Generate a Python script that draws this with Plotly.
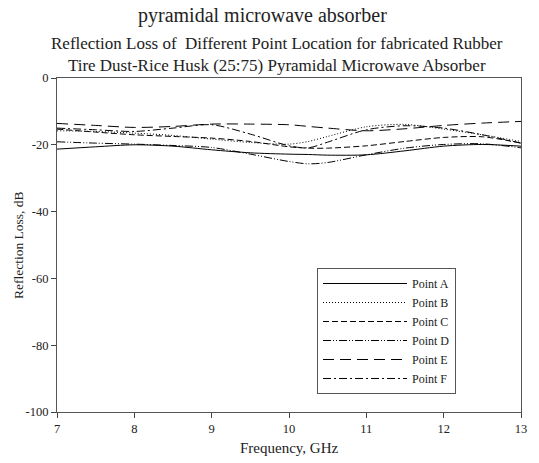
import plotly.graph_objects as go

freq = [7.0, 7.5, 8.0, 8.5, 9.0, 9.5, 10.0, 10.25, 10.5, 11.0, 11.5, 12.0, 12.5, 13.0]

point_a = [-21.3, -20.6, -20.0, -20.4, -21.5, -22.4, -22.8, -22.9, -23.1, -23.0, -21.8, -20.4, -19.9, -20.4]
point_b = [-15.8, -16.0, -16.5, -17.2, -18.3, -19.3, -19.8, -19.0, -17.5, -14.6, -13.9, -15.3, -17.0, -19.0]
point_c = [-15.3, -16.2, -17.0, -17.5, -18.0, -19.0, -20.6, -21.0, -21.0, -20.3, -19.0, -17.8, -17.6, -19.5]
point_d = [-19.1, -19.5, -19.8, -20.2, -20.8, -22.8, -25.0, -25.7, -25.3, -23.0, -21.0, -19.9, -19.7, -20.9]
point_e = [-13.6, -14.2, -14.8, -14.5, -13.8, -13.8, -14.0, -14.5, -15.0, -15.8, -15.2, -14.2, -13.5, -13.0]
point_f = [-15.0, -15.5, -16.0, -15.0, -14.0, -16.8, -20.3, -20.9, -19.2, -15.5, -14.3, -15.0, -17.0, -19.5]

names = ["Point A", "Point B", "Point C", "Point D", "Point E", "Point F"]
series = [point_a, point_b, point_c, point_d, point_e, point_f]
dashes = ["solid", "1px,2px", "6px,3px", "8px,2px,1px,2px,1px,2px", "11px,6px", "8px,3px,2px,3px"]

x_ticks = [7, 8, 9, 10, 11, 12, 13]
y_ticks = [0, -20, -40, -60, -80, -100]
y_tick_text = ["0", "-20", "-40", "-60", "-80", "-100"]

fig = go.Figure()
for name, vals, dash in zip(names, series, dashes):
    fig.add_trace(go.Scatter(
        x=freq, y=vals, mode="lines", name=name,
        line=dict(color="black", width=1, dash=dash, shape="spline", smoothing=0.8),
    ))

font_family = "Liberation Serif"
fig.update_layout(
    width=539, height=463,
    margin=dict(l=57, r=18, t=78, b=51),
    paper_bgcolor="white", plot_bgcolor="white",
    font=dict(family=font_family, size=12.5, color="#222"),
    showlegend=True,
    legend=dict(
        x=(317 - 57) / 464, y=(412 - 268) / 334, xanchor="left", yanchor="top",
        bordercolor="#555", borderwidth=1, bgcolor="white",
        font=dict(family=font_family, size=12, color="#222"),
        itemwidth=84, tracegroupgap=0,
    ),
    xaxis=dict(
        range=[7, 13], tickvals=x_ticks, ticks="outside", ticklen=5, tickcolor="#444",
        showline=True, linecolor="#555", linewidth=1, mirror=True, showgrid=False, zeroline=False,
        automargin=False,
    ),
    yaxis=dict(
        range=[-100, 0], tickvals=y_ticks, ticktext=y_tick_text, ticks="outside", ticklen=5, tickcolor="#444",
        showline=True, linecolor="#555", linewidth=1, mirror=True, showgrid=False, zeroline=False,
        automargin=False,
    ),
    annotations=[
        dict(text="pyramidal microwave absorber", xref="paper", yref="paper",
             x=(262 - 57) / 464, y=(412 - 15) / 334, xanchor="center", yanchor="middle",
             showarrow=False, font=dict(size=20, family=font_family, color="#222")),
        dict(text="Reflection Loss of  Different Point Location for fabricated Rubber<br>Tire Dust-Rice Husk (25:75) Pyramidal Microwave Absorber",
             xref="paper", yref="paper",
             x=(277 - 57) / 464, y=(412 - 54) / 334, xanchor="center", yanchor="middle",
             showarrow=False, font=dict(size=17, family=font_family, color="#222")),
        dict(text="Frequency, GHz", xref="paper", yref="paper",
             x=0.5, y=(412 - 448) / 334, xanchor="center", yanchor="middle",
             showarrow=False, font=dict(size=15, family=font_family, color="#222")),
        dict(text="Reflection Loss, dB", xref="paper", yref="paper", textangle=-90,
             x=(18 - 57) / 464, y=0.5, xanchor="center", yanchor="middle",
             showarrow=False, font=dict(size=13.5, family=font_family, color="#222")),
    ],
)

fig.write_html("out.html")
